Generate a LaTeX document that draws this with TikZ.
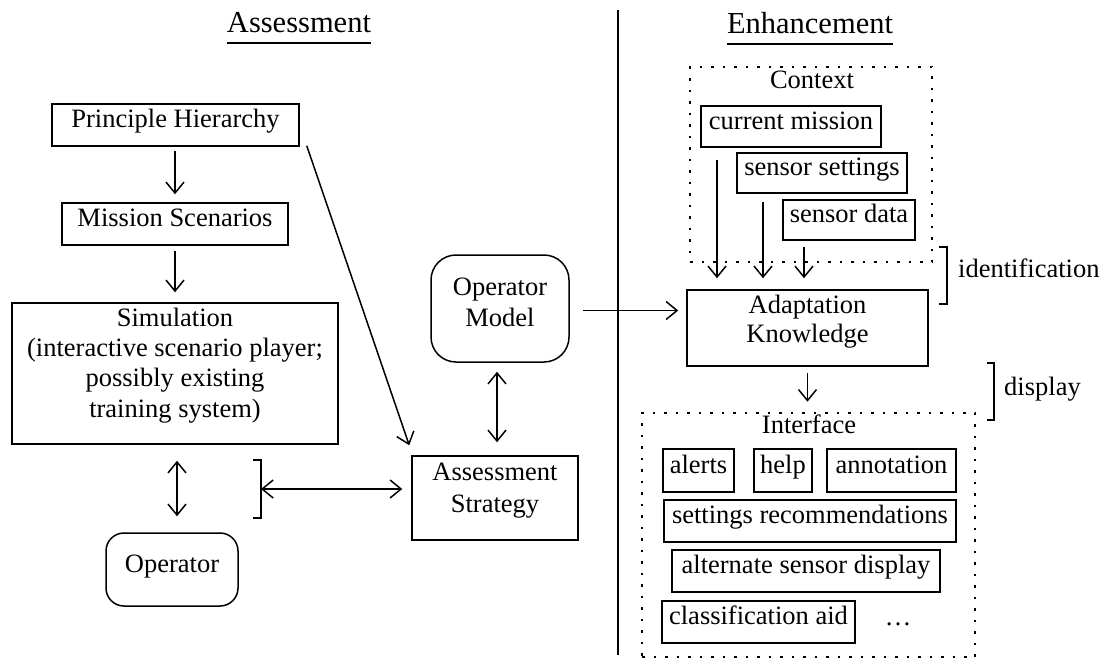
\documentclass[tikz,border=0pt]{standalone}
\usepackage{fontspec}
\setmainfont{Liberation Serif}
\usetikzlibrary{arrows.meta}
\newcommand{\tsx}{\rule{0pt}{18pt}}
\newcommand{\bsx}[1]{\rule[-#1pt]{0pt}{#1pt}}
\begin{document}
\begin{tikzpicture}[x=1pt,y=-1pt,
  every node/.style={font=\fontsize{26.5}{31}\selectfont, inner sep=0pt},
  box/.style={draw, line width=1.5pt, rectangle, text height=18pt, text depth=13pt},
  mbox/.style={draw, line width=1.5pt, rectangle, align=center},
  rbox/.style={draw, line width=1.5pt, rectangle, rounded corners=18pt, text height=18pt, text depth=13pt},
  rmbox/.style={draw, line width=1.5pt, rectangle, rounded corners=25pt, align=center},
  dotbox/.style={draw, line width=2.6pt, dash pattern=on 2.5pt off 9pt},
  lbl/.style={anchor=base},
  ttl/.style={anchor=base, font=\fontsize{30.5}{36}\selectfont},
  ln/.style={line width=1.6pt},
  tip/.style={Straight Barb[length=11pt,width=18pt,line width=1.6pt]},
  arr/.style={-{Straight Barb[length=11pt,width=18pt]}, line width=1.5pt},
  darr/.style={{Straight Barb[length=11pt,width=18pt]}-{Straight Barb[length=11pt,width=18pt]}, line width=1.5pt}]
\useasboundingbox[fill=white] (0,0) rectangle (1103,662);

% titles
\node[ttl] (tA) at (299,32) {Assessment};
\node[ttl] (tE) at (810,33) {Enhancement};
\draw[line width=1.5pt] ([yshift=-11pt]tA.base west) -- ([yshift=-11pt]tA.base east);
\draw[line width=1.5pt] ([yshift=-11pt]tE.base west) -- ([yshift=-11pt]tE.base east);

% separator
\coordinate (sepT) at (617.5,10);
\coordinate (sepB) at (617.5,655);
\draw[line width=2pt] (sepT) -- (sepB);

% assessment side
\node[box, minimum width=247pt, minimum height=42pt] (ph) at (175.5,125) {Principle Hierarchy};
\node[box, minimum width=226pt, minimum height=42pt] (ms) at (175,224) {Mission Scenarios};
\node[mbox, minimum width=326pt, minimum height=141pt, font=\fontsize{26.5}{30.3}\selectfont] (sim) at (175,373.5)
  {\tsx Simulation\\(interactive scenario player;\\possibly existing\\training system)\bsx{22}};
\node[rbox, minimum width=132pt, minimum height=73pt] (op) at (172,569.5) {Operator};
\node[rmbox, minimum width=138pt, minimum height=107pt] (om) at (500,308.5) {\tsx Operator\\Model\bsx{14}};
\node[mbox, minimum width=166pt, minimum height=84pt, font=\fontsize{26.5}{32}\selectfont] (as) at (495,498) {\tsx Assessment\\Strategy\bsx{22}};

\draw[arr, shorten <=4pt, shorten >=8pt] (ph.south -| ms.south) -- (ms.north);
\draw[arr, shorten <=5pt, shorten >=10pt] (ms.south) -- (ms.south |- sim.north);
\coordinate (sx) at (177,0);
\draw[darr, shorten <=16pt, shorten >=16pt] (sim.south -| sx) -- (op.north -| sx);
\coordinate (bt) at (261,460);
\coordinate (bb) at (261,518);
\coordinate (bm) at (261,489);
\draw[ln] ([xshift=-8pt]bt) -- (bt) -- (bb) -- ([xshift=-8pt]bb);
\draw[darr, shorten >=9pt] (bm) -- (bm -| as.west);
\coordinate (ox) at (497,0);
\draw[darr, shorten <=9pt, shorten >=13pt] (om.south -| ox) -- (as.north -| ox);
\draw[arr] ([xshift=7pt,yshift=1pt]ph.south east) -- ([xshift=-2pt,yshift=10pt]as.north west);

% enhancement side
\node[dotbox, minimum width=242pt, minimum height=195pt] (ctx) at (811,164.5) {};
\node[lbl] (ctxl) at (812,88) {Context};
\node[box, minimum width=180pt, minimum height=41pt] (cm) at (791,126.5) {current mission};
\node[box, minimum width=170pt, minimum height=40pt] (ss) at (822,173) {sensor settings};
\node[box, minimum width=132pt, minimum height=40pt] (sd) at (849,220) {sensor data};
\node[mbox, minimum width=241pt, minimum height=76pt, font=\fontsize{26.5}{29}\selectfont] (ak) at (807.5,328) {\tsx Adaptation\\Knowledge\bsx{19}};

\coordinate (a1) at (717,0);
\coordinate (a2) at (763,0);
\coordinate (a3) at (804,0);
\draw[arr, shorten <=12pt, shorten >=11pt] (cm.south -| a1) -- (ak.north -| a1);
\draw[arr, shorten <=8pt, shorten >=11pt] (ss.south -| a2) -- (ak.north -| a2);
\draw[arr, shorten <=6pt, shorten >=11pt] (sd.south -| a3) -- (ak.north -| a3);

\draw[arr, shorten <=13pt, shorten >=8pt] ([yshift=-2pt]om.east) -- ([yshift=-2pt]om.east -| ak.west);

\coordinate (it) at (947,247);
\coordinate (ib) at (947,304);
\draw[ln] ([xshift=-8pt]it) -- (it) -- (ib) -- ([xshift=-8pt]ib);
\node[lbl, anchor=base west] (idl) at (958,277) {identification};

\node[dotbox, minimum width=333pt, minimum height=244pt] (intf) at (808.5,535) {};
\node[lbl] (intfl) at (809,433) {Interface};
\draw[arr, shorten <=6pt, shorten >=10pt] (ak.south) -- (ak.south |- intf.north);

\coordinate (dt) at (994,363);
\coordinate (db) at (994,420);
\draw[ln] ([xshift=-7pt]dt) -- (dt) -- (db) -- ([xshift=-7pt]db);
\node[lbl, anchor=base west] (dil) at (1004,395) {display};

\node[box, minimum width=71pt, minimum height=43pt] (al) at (698.5,470.5) {alerts};
\node[box, minimum width=58pt, minimum height=43pt] (hp) at (783,470.5) {help};
\node[box, minimum width=129pt, minimum height=43pt] (an) at (891.5,470.5) {annotation};
\node[box, minimum width=292pt, minimum height=42pt] (sr) at (810,521) {settings recommendations};
\node[box, minimum width=268pt, minimum height=42pt] (asd) at (806,571) {alternate sensor display};
\node[box, minimum width=193pt, minimum height=42pt] (ca) at (758.5,622) {classification aid};
\node[lbl] (dots) at (898,625) {\dots};
\end{tikzpicture}
\end{document}
